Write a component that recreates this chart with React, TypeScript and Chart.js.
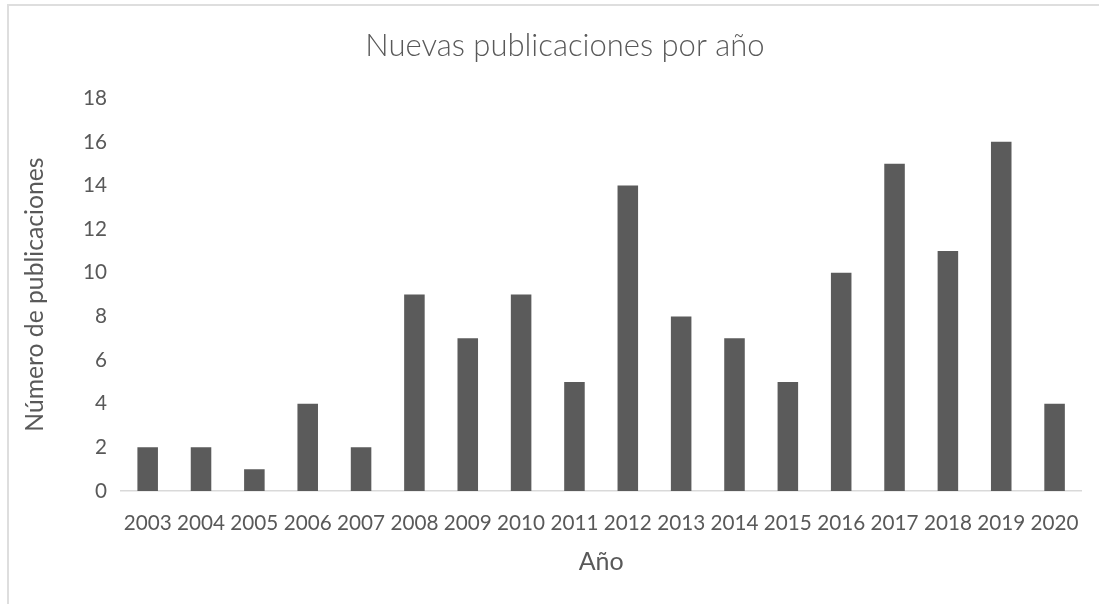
import React, { useEffect, useRef } from "react";
import { Chart, registerables } from "chart.js";

Chart.register(...registerables);

// Publications per year
const years: string[] = [
  "2003", "2004", "2005", "2006", "2007", "2008", "2009", "2010", "2011",
  "2012", "2013", "2014", "2015", "2016", "2017", "2018", "2019", "2020",
];
const publications: number[] = [2, 2, 1, 4, 2, 9, 7, 9, 5, 14, 8, 7, 5, 10, 15, 11, 16, 4];

const titleText = "Nuevas publicaciones por año";
const xTitle = "Año";
const yTitle = "Número de publicaciones";
const yMax = 18;
const yStep = 2;

const TEXT = "#595959";
const BAR = "#5b5b5b";
const FONT = "Lato, 'Open Sans', sans-serif";

export default function App() {
  const canvasRef = useRef<HTMLCanvasElement | null>(null);

  useEffect(() => {
    const canvas = canvasRef.current;
    if (!canvas) return;
    const chart = new Chart(canvas, {
      type: "bar",
      data: {
        labels: years,
        datasets: [
          {
            data: publications,
            backgroundColor: BAR,
            borderWidth: 0,
            barPercentage: 0.385,
            categoryPercentage: 1,
          },
        ],
      },
      options: {
        responsive: false,
        animation: false,
        layout: { padding: { left: 46, right: 15, top: 0, bottom: 0 } },
        plugins: {
          legend: { display: false },
          tooltip: { enabled: false },
          title: {
            display: true,
            text: titleText,
            color: TEXT,
            font: { family: FONT, size: 31, weight: 300 as any, lineHeight: 1.2 },
            padding: { top: 27, bottom: 34 },
          },
        },
        scales: {
          x: {
            grid: { display: false, drawTicks: false },
            border: { display: true, color: "#d9d9d9", width: 1.5 },
            ticks: {
              color: TEXT,
              font: { family: FONT, size: 20.7, lineHeight: 1.2 },
              padding: 20,
              maxRotation: 0,
              autoSkip: false,
            },
            title: {
              display: true,
              text: xTitle,
              color: TEXT,
              font: { family: FONT, size: 25, lineHeight: 1.2 },
              padding: { top: 0, bottom: 27 },
            },
            afterFit: (scale: any) => {
              scale.height = 113;
            },
          },
          y: {
            min: 0,
            max: yMax,
            grid: { display: false, drawTicks: false },
            border: { display: false },
            ticks: {
              stepSize: yStep,
              color: TEXT,
              font: { family: FONT, size: 20.7, lineHeight: 1.2 },
              padding: 14,
            },
            title: {
              display: true,
              text: yTitle,
              color: TEXT,
              font: { family: FONT, size: 24.7, lineHeight: 1.2 },
              padding: { top: -26, bottom: 0 },
            },
            afterFit: (scale: any) => {
              scale.width = 75;
            },
          },
        },
      },
    });
    return () => chart.destroy();
  }, []);

  return (
    <div
      style={{
        position: "fixed",
        left: 0,
        top: 0,
        width: 1099,
        height: 604,
        background: "#ffffff",
        overflow: "hidden",
      }}
    >
      <div
        style={{
          position: "absolute",
          left: 7,
          top: 4,
          width: 1200,
          height: 700,
          border: "2px solid #dedede",
        }}
      />
      <canvas
        ref={canvasRef}
        width={1099}
        height={604}
        style={{ position: "absolute", left: 0, top: 0, display: "block" }}
      />
    </div>
  );
}
